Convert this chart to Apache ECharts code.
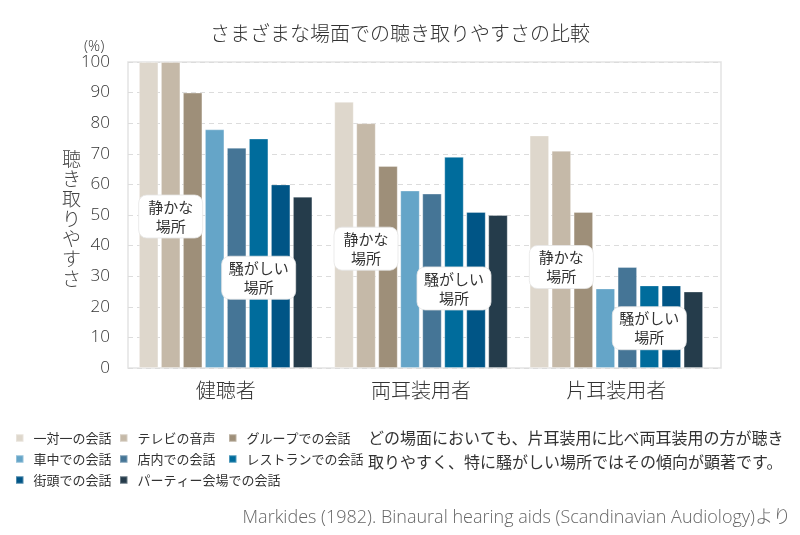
<!DOCTYPE html>
<html>
<head>
<meta charset="utf-8">
<style>html,body{margin:0;padding:0;background:#fff}#chart{width:800px;height:535px}</style>
<script src="https://cdn.jsdelivr.net/npm/echarts@6/dist/echarts.min.js"></script>
</head>
<body>
<div id="chart"></div>
<script>
// ---- data ----
const categories = ['健聴者', '両耳装用者', '片耳装用者'];
const seriesNames = ['一対一の会話', 'テレビの音声', 'グループでの会話', '車中での会話', '店内での会話', 'レストランでの会話', '街頭での会話', 'パーティー会場での会話'];
const oneOnOne   = [100, 87, 76];
const tvAudio    = [100, 80, 71];
const groupTalk  = [90, 66, 51];
const inCar      = [78, 58, 26];
const inShop     = [72, 57, 33];
const restaurant = [75, 69, 27];
const street     = [60, 51, 27];
const party      = [56, 50, 25];
const yTicks = [0, 10, 20, 30, 40, 50, 60, 70, 80, 90, 100];
const annoCategory = [0, 0, 1, 1, 2, 2];
const annoValue    = [49.5, 29.5, 39, 26, 33, 13];
const annoKind     = [0, 1, 0, 1, 0, 1];
const annoText     = ['静かな\n場所', '騒がしい\n場所'];

const seriesValues = [oneOnOne, tvAudio, groupTalk, inCar, inShop, restaurant, street, party];
const colors = ['#DED7CC', '#C5B9A8', '#9E8F79', '#65A5C8', '#457596', '#006C9C', '#005586', '#253C4B'];

const JP = '"Noto Sans CJK JP", sans-serif';
const NUM = '"Open Sans", "Noto Sans CJK JP", sans-serif';
const BAR_W = 19.5, BAR_GAP = 2.5;

const chart = echarts.init(document.getElementById('chart'));

function renderAnno(params, api) {
  const c = api.coord([api.value(0), api.value(1)]);
  const kind = api.value(2);
  const groupW = 8 * BAR_W + 7 * BAR_GAP;
  const start = c[0] - groupW / 2;
  let cx;
  if (kind === 0) cx = start + (3 * BAR_W + 2 * BAR_GAP) / 2;
  else cx = start + 3 * BAR_W + 3 * BAR_GAP + (5 * BAR_W + 4 * BAR_GAP) / 2;
  const w = kind === 0 ? 64 : 74, h = 43;
  return {
    type: 'group',
    children: [
      { type: 'rect', shape: { x: cx - w / 2, y: c[1] - h / 2, width: w, height: h, r: 8 },
        style: { fill: '#fff', stroke: '#e6e6e6', lineWidth: 0.8 } },
      { type: 'text', style: { text: annoText[kind], x: cx, y: c[1], align: 'center', verticalAlign: 'middle',
        fontSize: 15, lineHeight: 19, fill: '#333', fontFamily: JP } }
    ]
  };
}

const legendStyle = {
  orient: 'vertical', top: 426, itemWidth: 7.5, itemHeight: 7.5, itemGap: 7, icon: 'rect',
  textStyle: { fontSize: 13, lineHeight: 14, color: '#333', padding: [0, 0, 0, 5], fontFamily: JP }
};

const series = seriesNames.map((name, i) => ({
  name, type: 'bar', xAxisIndex: 0, yAxisIndex: 0,
  data: seriesValues[i], barWidth: BAR_W, barGap: (BAR_GAP / BAR_W * 100) + '%',
  itemStyle: { color: colors[i], borderColor: 'rgba(255,255,255,0.3)', borderWidth: 1 },
  emphasis: { disabled: true }
}));
series.push({
  type: 'custom', xAxisIndex: 0, yAxisIndex: 0, z: 10,
  data: annoCategory.map((c, i) => [c, annoValue[i], annoKind[i]]),
  encode: { x: 0, y: 1 }, renderItem: renderAnno, silent: true
});

chart.setOption({
  animation: false,
  textStyle: { fontFamily: JP },
  title: { text: 'さまざまな場面での聴き取りやすさの比較', left: 'center', top: 18,
    textStyle: { fontSize: 20, fontWeight: 300, color: '#333', fontFamily: JP } },
  grid: [
    { left: 128, top: 62, width: 586, height: 306 },
    { left: 128, top: 62, width: 593, height: 306, show: true, borderColor: '#e3e3e3', borderWidth: 1.5, backgroundColor: 'transparent' }
  ],
  xAxis: [
    { type: 'category', gridIndex: 0, data: categories, axisLine: { show: false }, axisTick: { show: false },
      axisLabel: { fontSize: 20, color: '#333', margin: 12, fontFamily: JP, fontWeight: 300 } },
    { type: 'value', gridIndex: 1, min: 0, max: 1, show: false }
  ],
  yAxis: [
    { type: 'value', gridIndex: 0, min: 0, max: 100, show: false },
    { type: 'value', gridIndex: 1, min: yTicks[0], max: yTicks[yTicks.length - 1], interval: yTicks[1] - yTicks[0],
      axisLine: { show: false }, axisTick: { show: false },
      axisLabel: { fontSize: 17, color: '#333', margin: 18, fontFamily: NUM, fontWeight: 300 },
      splitLine: { lineStyle: { type: [5, 4], color: '#dcdcdc', width: 1 } } }
  ],
  legend: [
    Object.assign({ left: 10, data: [seriesNames[0], seriesNames[3], seriesNames[6]] }, legendStyle),
    Object.assign({ left: 114, data: [seriesNames[1], seriesNames[4], seriesNames[7]] }, legendStyle),
    Object.assign({ left: 223, data: [seriesNames[2], seriesNames[5]] }, legendStyle)
  ],
  graphic: [
    { type: 'text', left: 84, top: 39, style: { text: '(%)', fontSize: 15, fill: '#333', fontFamily: NUM, fontWeight: 300 } },
    { type: 'text', left: 62, top: 149, style: { text: '聴\nき\n取\nり\nや\nす\nさ', fontSize: 19, lineHeight: 20, fill: '#444', align: 'center', fontFamily: JP, fontWeight: 300 } },
    { type: 'text', left: 368, top: 426, style: { text: 'どの場面においても、片耳装用に比べ両耳装用の方が聴き\n取りやすく、特に騒がしい場所ではその傾向が顕著です。', fontSize: 16, lineHeight: 24, fill: '#333', fontFamily: JP } },
    { type: 'text', right: 9, top: 509, style: { text: 'Markides (1982). Binaural hearing aids (Scandinavian Audiology)より', fontSize: 18, fill: '#666', fontFamily: NUM, fontWeight: 300 } }
  ],
  series
});
</script>
</body>
</html>
